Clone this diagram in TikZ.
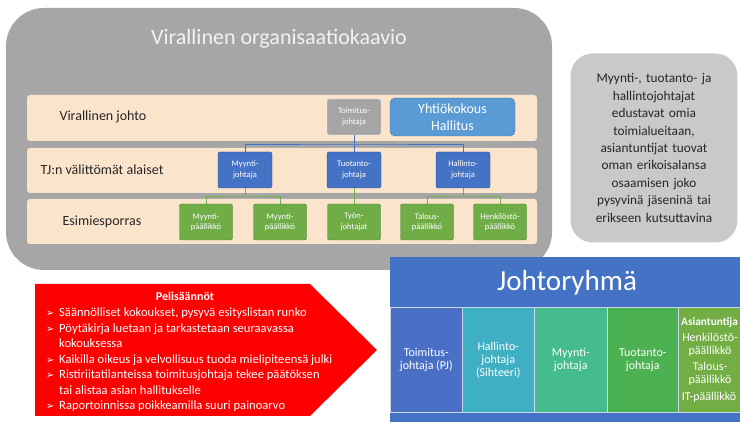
\documentclass[tikz,border=0pt]{standalone}
\usepackage{fontspec}
\setmainfont{Carlito}
\newfontfamily\symfont{DejaVu Sans}
\usetikzlibrary{calc}

\definecolor{orggray}{HTML}{A6A6A6}
\definecolor{peach}{HTML}{FBE4CC}
\definecolor{tjgray}{HTML}{A5A5A5}
\definecolor{skyblue}{HTML}{5B9BD5}
\definecolor{skyedge}{HTML}{41719C}
\definecolor{officeblue}{HTML}{4472C4}
\definecolor{blueedge}{HTML}{2F528F}
\definecolor{leaf}{HTML}{70AD47}
\definecolor{leafedge}{HTML}{507E32}
\definecolor{notegray}{HTML}{C9C9C9}
\definecolor{rulered}{HTML}{FF0000}
\definecolor{colA}{HTML}{4A70C6}
\definecolor{colB}{HTML}{3FB0C3}
\definecolor{colC}{HTML}{45BC8E}
\definecolor{colD}{HTML}{4CB151}
\definecolor{colE}{HTML}{72AE44}

\newcommand\blt{\makebox[13pt][l]{{\symfont\fontsize{10}{10}\selectfont ➢}}}
\newcommand\cnt{\hspace*{13pt}}

\begin{document}
\begin{tikzpicture}[x=1pt,y=-1pt,
  band/.style={fill=peach, rounded corners=3pt},
  rowlabel/.style={font=\fontsize{14}{17}\selectfont, text=black!85},
  smallbox/.style={minimum width=54pt, minimum height=36pt, inner sep=1pt,
    align=center, text=white, font=\fontsize{8.5}{10.5}\selectfont, rounded corners=2pt},
  tjbox/.style={smallbox, fill=tjgray, draw=white!85!tjgray},
  bluebox/.style={smallbox, fill=officeblue, draw=blueedge},
  greenbox/.style={smallbox, minimum width=53pt, fill=leaf, draw=leafedge},
  blueline/.style={draw=officeblue, line width=0.8pt},
  greenline/.style={draw=leaf, line width=0.8pt},
  colbox/.style={minimum height=105pt, inner sep=0pt, anchor=north west, draw=white!70!officeblue, line width=0.6pt},
  coltext/.style={text=white, align=center, font=\fontsize{12}{13}\selectfont},
]
\useasboundingbox (0,0) rectangle (740,422);
\fill[white] (0,0) rectangle (740,422);

% ---- formal organisation chart ----
\fill[orggray, rounded corners=38pt] (6,8) rectangle (552,270);
\node[text=white!95!black, font=\fontsize{22}{26}\selectfont] (title) at (279,39) {Virallinen organisaatiokaavio};

\fill[band] (27,95) rectangle (537,141);
\fill[band] (27,148) rectangle (537,193);
\fill[band] (27,199) rectangle (537,244);

\node[rowlabel] (l1) at (103,117) {Virallinen johto};
\node[rowlabel] (l2) at (102,170) {TJ:n välittömät alaiset};
\node[rowlabel] (l3) at (102,222) {Esimiesporras};

\node[tjbox] (tj) at (354,117) {Toimitus-\\johtaja};
\node[smallbox, fill=skyblue, draw=skyedge, minimum width=125pt, minimum height=38pt,
  rounded corners=5pt, font=\fontsize{14}{17}\selectfont] (yk) at (452.5,117) {Yhtiökokous\\Hallitus};

\node[bluebox] (mj) at (245,170) {Myynti-\\johtaja};
\node[bluebox] (tt) at (354,170) {Tuotanto-\\johtaja};
\node[bluebox] (hj) at (463,170) {Hallinto-\\johtaja};

\node[greenbox] (mp1) at (206,222) {Myynti-\\päällikkö};
\node[greenbox] (mp2) at (280,222) {Myynti-\\päällikkö};
\node[greenbox] (tyo) at (354,222) {Työn-\\johtajat};
\node[greenbox] (tp) at (427,222) {Talous-\\päällikkö};
\node[greenbox] (hp) at (500,222) {Henkilöstö-\\päällikkö};

\coordinate (j1) at (354,144);
\draw[blueline] (tj.south) -- (j1);
\draw[blueline] (mj.north) |- (j1) -| (hj.north);
\draw[blueline] (j1) -- (tt.north);

\coordinate (k1) at (245,196);
\coordinate (k2) at (463,196);
\draw[greenline] (mj.south) -- (k1);
\draw[greenline] (mp1.north) |- (k1) -| (mp2.north);
\draw[greenline] (tt.south) -- (tyo.north);
\draw[greenline] (hj.south) -- (k2);
\draw[greenline] (tp.north) |- (k2) -| (hp.north);

% ---- side note ----
\node[fill=notegray, rounded corners=22pt, minimum width=163pt, minimum height=189pt,
  text width=160pt, align=center, text=black!85,
  font=\fontsize{13.3}{17.4}\selectfont] (note) at (654,148)
  {Myynti-, tuotanto- ja\\ hallintojohtajat\\ edustavat omia\\ toimialueitaan,\\ asiantuntijat tuovat\\ oman erikoisalansa\\ osaamisen joko\\ pysyvinä jäseninä tai\\ erikseen kutsuttavina};

% ---- ground rules arrow ----
\fill[rulered] (35,284) -- (310,284) -- (377,350) -- (310,416) -- (35,416) -- cycle;
\node[text=white, font=\bfseries\fontsize{12}{14}\selectfont] (rt) at (185,296) {Pelisäännöt};
\node[text=white, anchor=north west, inner sep=0pt, align=left,
  font=\fontsize{12.6}{15.5}\selectfont] (rules) at (46,308)
  {\blt Säännölliset kokoukset, pysyvä esityslistan runko\\
   \blt Pöytäkirja luetaan ja tarkastetaan seuraavassa\\
   \cnt kokouksessa\\
   \blt Kaikilla oikeus ja velvollisuus tuoda mielipiteensä julki\\
   \blt Ristiriitatilanteissa toimitusjohtaja tekee päätöksen\\
   \cnt tai alistaa asian hallitukselle\\
   \blt Raportoinnissa poikkeamilla suuri painoarvo};

% ---- management team ----
\begin{scope}
\clip (390,257) rectangle (740,422);
\fill[officeblue] (390,257) rectangle (740,422);
\node[text=white, font=\fontsize{29}{34}\selectfont] (jr) at (567,283) {Johtoryhmä};
\node[colbox, fill=colA, minimum width=72pt] (c1) at (390,307) {};
\node[colbox, fill=colB, minimum width=72pt] (c2) at (462,307) {};
\node[colbox, fill=colC, minimum width=73pt] (c3) at (534,307) {};
\node[colbox, fill=colD, minimum width=71pt] (c4) at (607,307) {};
\node[colbox, fill=colE, minimum width=80pt] (c5) at (678,307) {};
\node[coltext] (t1) at (c1.center) {Toimitus-\\johtaja (PJ)};
\node[coltext] (t2) at (c2.center) {Hallinto-\\johtaja\\(Sihteeri)};
\node[coltext] (t3) at (c3.center) {Myynti-\\johtaja};
\node[coltext] (t4) at (c4.center) {Tuotanto-\\johtaja};
\node[text=white, anchor=west, inner sep=0pt, font=\bfseries\fontsize{11.3}{13}\selectfont] (asi) at (681,322) {Asiantuntija};
\node[coltext] (e1) at (710,345) {Henkilöstö-\\päällikkö};
\node[coltext] (e2) at (710,373.5) {Talous-\\päällikkö};
\node[coltext] (e3) at (709,397) {IT-päällikkö};
\end{scope}
\end{tikzpicture}
\end{document}
